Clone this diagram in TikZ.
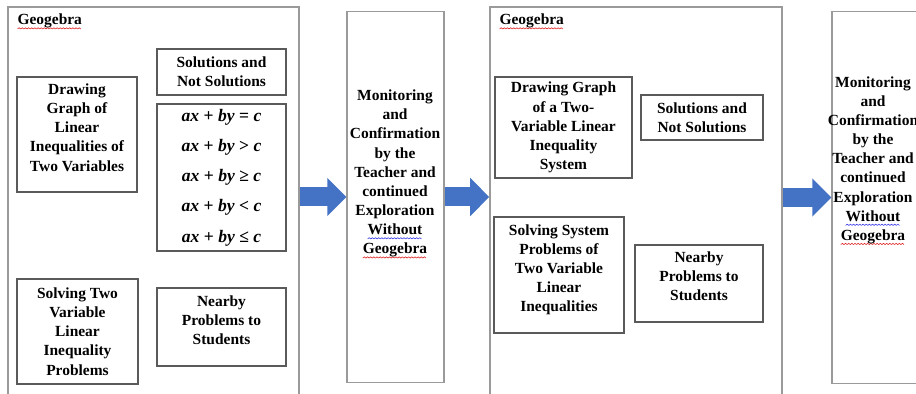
\documentclass[tikz,border=0pt]{standalone}
\usepackage{fontspec}
\setmainfont{Liberation Serif}
\usepackage{xcolor}
\definecolor{cFrame}{HTML}{9A9A9A}
\definecolor{cBox}{HTML}{5A5A5A}
\definecolor{cArrow}{HTML}{4472C4}
\definecolor{cSpell}{HTML}{E02424}
\definecolor{cGrammar}{HTML}{3A3AE8}
\usetikzlibrary{positioning,arrows.meta}
% wavy proofing underline: #1 colour, #2 word
\newcommand{\wavebit}[1]{\begin{pgfpicture}
  \pgfpathrectangle{\pgfpointorigin}{\pgfpoint{1.8pt}{0.7pt}}\pgfusepath{use as bounding box}
  \pgfsetlinewidth{0.35pt}\pgfsetstrokecolor{#1}
  \pgfpathmoveto{\pgfpointorigin}\pgfpathlineto{\pgfpoint{0.9pt}{0.7pt}}\pgfpathlineto{\pgfpoint{1.8pt}{0pt}}
  \pgfusepath{stroke}\end{pgfpicture}}
\newcommand{\wavy}[2]{\leavevmode\setbox0=\hbox{#2}%
  \rlap{\raisebox{-2.4pt}{\hbox to \wd0{\leaders\hbox{\wavebit{#1}}\hfill}}}\box0}
\newcommand{\spellwave}[1]{\wavy{cSpell}{#1}}
\newcommand{\grammarwave}[1]{\wavy{cGrammar}{#1}}
\tikzset{
  panel-box/.style={draw=cFrame,line width=0.9pt,inner sep=0pt},
  node-box/.style={draw=cBox,line width=0.7pt,align=center,inner sep=0pt,
    font=\fontsize{8.8}{10.9}\selectfont\bfseries},
  text-top/.style={text depth=8pt},
  eq-font/.style={font=\fontsize{10}{17.2}\selectfont\bfseries},
  mon-box/.style={draw=cFrame,line width=0.8pt,inner sep=0pt,
    minimum width=1.94cm,minimum height=7.43cm},
  mon-text/.style={align=center,inner sep=0pt,
    font=\fontsize{8.8}{10.9}\selectfont\bfseries},
  title-text/.style={inner sep=0pt,font=\fontsize{8.8}{10.9}\selectfont\bfseries},
  arrow-block/.style={-{Triangle[length=0.38cm,width=0.74cm]},line width=0.38cm,draw=cArrow},
}
\begin{document}
\begin{tikzpicture}[x=0.02cm,y=-0.02cm]
  \useasboundingbox (0,0) rectangle (916,394);
  \clip (0,0) rectangle (916,394);
  % Geogebra panels
  \node[panel-box,minimum width=5.82cm,minimum height=8.26cm] (geo1) at (153.5,213.5) {};
  \node[panel-box,minimum width=5.84cm,minimum height=8.26cm] (geo2) at (636,213.5) {};
  \node[title-text,below right=0.15cm and 0.2cm of geo1.north west] (title1) {\spellwave{Geogebra}};
  \node[title-text,below right=0.15cm and 0.2cm of geo2.north west] (title2) {\spellwave{Geogebra}};
  % first panel
  \node[node-box,text-top,minimum width=2.4cm,minimum height=2.3cm] (draw1) at (77,134.5) {Drawing\\Graph of\\Linear\\Inequalities of\\Two Variables};
  \node[node-box,minimum width=2.58cm,minimum height=0.92cm] (sol1)   at (221.5,72)  {Solutions and\\Not Solutions};
  \node[node-box,eq-font,minimum width=2.58cm,minimum height=2.94cm] (eq1) at (221.5,177.5)
    {\textit{ax} + \textit{by} = \textit{c}\\\textit{ax} + \textit{by} > \textit{c}\\\textit{ax} + \textit{by} ≥ \textit{c}\\\textit{ax} + \textit{by} < \textit{c}\\\textit{ax} + \textit{by} ≤ \textit{c}};
  \node[node-box,minimum width=2.42cm,minimum height=2.1cm]  (solve1) at (77.5,331.5) {Solving Two\\Variable\\Linear\\Inequality\\Problems};
  \node[node-box,text-top,minimum width=2.58cm,minimum height=1.56cm] (near1) at (221.5,327) {Nearby\\Problems to\\Students};
  % second panel
  \node[node-box,minimum width=2.74cm,minimum height=2.02cm] (draw2)  at (563.5,127.5) {Drawing Graph\\of a Two-\\Variable Linear\\Inequality\\System};
  \node[node-box,minimum width=2.44cm,minimum height=0.9cm]  (sol2)   at (702,117.5)  {Solutions and\\Not Solutions};
  \node[node-box,text-top,minimum width=2.6cm,minimum height=2.32cm] (solve2) at (559,275) {Solving System\\Problems of\\Two Variable\\Linear\\Inequalities};
  \node[node-box,text-top,minimum width=2.56cm,minimum height=1.54cm] (near2) at (699,283.5) {Nearby\\Problems to\\Students};
  % monitoring steps
  \node[mon-box] (mon1) at (395.5,197) {};
  \node[mon-box] (mon2) at (880.5,197.5) {};
  \node[mon-text] (montext1) at (395,174)
    {Monitoring\\and\\Confirmation\\by the\\Teacher and\\continued\\Exploration\\\grammarwave{Without}\\\spellwave{Geogebra}};
  \node[mon-text] (montext2) at (873,160.5)
    {Monitoring\\and\\Confirmation\\by the\\Teacher and\\continued\\Exploration\\\grammarwave{Without}\\\spellwave{Geogebra}};
  \draw[arrow-block] (mon1.west -| geo1.east) -- (mon1.west);
  \draw[arrow-block] (mon1.east) -- (mon1.east -| geo2.west);
  \draw[arrow-block] (mon2.west -| geo2.east) -- (mon2.west);
\end{tikzpicture}
\end{document}
